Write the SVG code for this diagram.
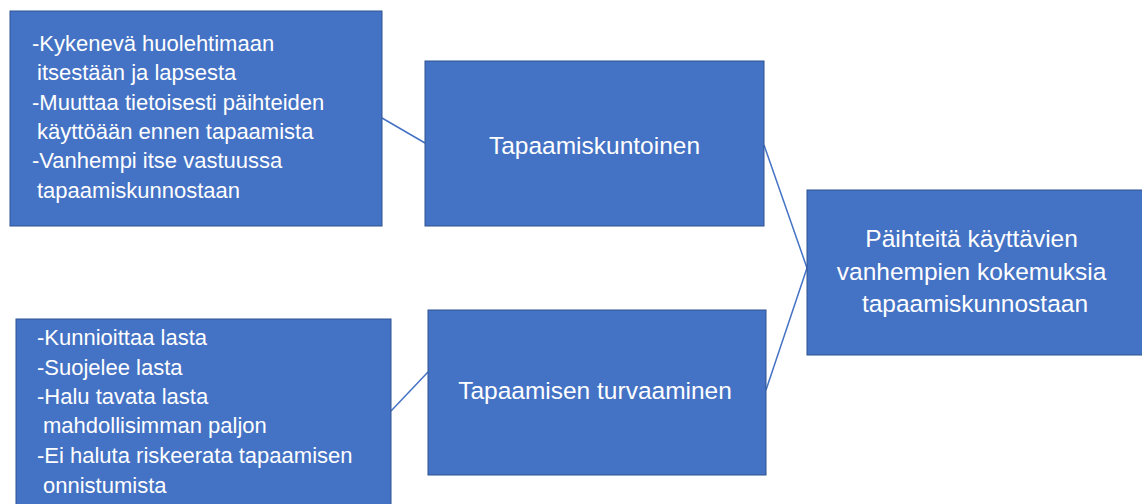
<svg xmlns="http://www.w3.org/2000/svg" width="1142" height="504" viewBox="0 0 1142 504">
  <style>
    .box { fill: #4472C4; stroke: #2F528F; stroke-width: 1; }
    .conn { stroke: #4472C4; stroke-width: 1.5; fill: none; }
    .t { font-family: "Liberation Sans", Arial, sans-serif; fill: #FFFFFF; }
    .small { font-size: 22px; }
    .big { font-size: 24.5px; text-anchor: middle; }
  </style>
  <rect width="1142" height="504" fill="#FFFFFF"/>
  <g id="connectors">
    <line class="conn" x1="382" y1="118" x2="425" y2="143"/>
    <line class="conn" x1="391" y1="411" x2="428" y2="372"/>
    <line class="conn" x1="764" y1="145" x2="807" y2="268"/>
    <line class="conn" x1="766" y1="390" x2="807" y2="268"/>
  </g>
  <g id="node-kykeneva">
    <rect class="box" x="10" y="11" width="372" height="215"/>
    <text class="t small">
      <tspan x="32" y="51">-Kykenevä huolehtimaan</tspan>
      <tspan x="37" y="80">itsestään ja lapsesta</tspan>
      <tspan x="32" y="110">-Muuttaa tietoisesti päihteiden</tspan>
      <tspan x="37" y="139">käyttöään ennen tapaamista</tspan>
      <tspan x="32" y="168">-Vanhempi itse vastuussa</tspan>
      <tspan x="37" y="198">tapaamiskunnostaan</tspan>
    </text>
  </g>
  <g id="node-kunnioittaa">
    <rect class="box" x="16" y="319" width="375" height="190"/>
    <text class="t small">
      <tspan x="37" y="345">-Kunnioittaa lasta</tspan>
      <tspan x="37" y="375">-Suojelee lasta</tspan>
      <tspan x="37" y="404">-Halu tavata lasta</tspan>
      <tspan x="43" y="433">mahdollisimman paljon</tspan>
      <tspan x="37" y="463">-Ei haluta riskeerata tapaamisen</tspan>
      <tspan x="43" y="493">onnistumista</tspan>
    </text>
  </g>
  <g id="node-tapaamiskuntoinen">
    <rect class="box" x="425" y="61" width="339" height="165"/>
    <text class="t big" x="594.5" y="154">Tapaamiskuntoinen</text>
  </g>
  <g id="node-turvaaminen">
    <rect class="box" x="428" y="310" width="338" height="165"/>
    <text class="t big" x="595" y="399">Tapaamisen turvaaminen</text>
  </g>
  <g id="node-paihteita">
    <rect class="box" x="807" y="190" width="340" height="165"/>
    <text class="t big">
      <tspan x="975" y="247">Päihteitä käyttävien</tspan>
      <tspan x="975" y="280">vanhempien kokemuksia</tspan>
      <tspan x="975" y="312">tapaamiskunnostaan</tspan>
    </text>
  </g>
</svg>
